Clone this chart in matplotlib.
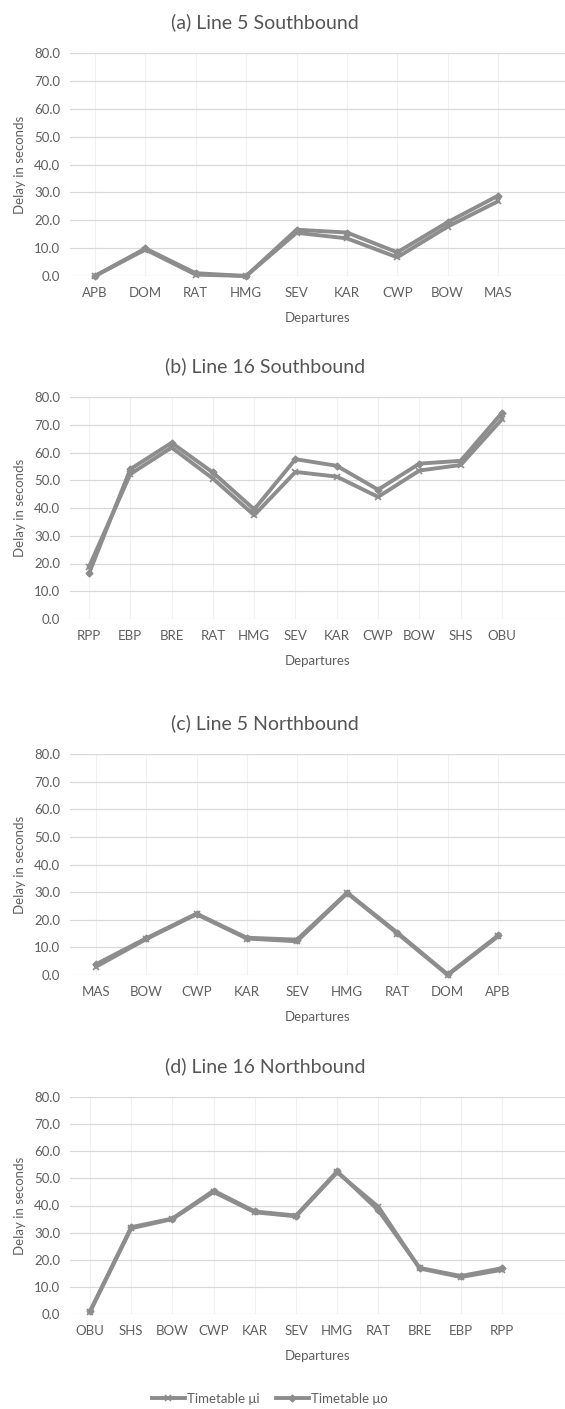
import numpy as np
import matplotlib
matplotlib.use('Agg')
import matplotlib.pyplot as plt

plt.rcParams['font.family'] = ['Lato', 'DejaVu Sans']

# stops and delays (seconds)
stops_a = ['APB', 'DOM', 'RAT', 'HMG', 'SEV', 'KAR', 'CWP', 'BOW', 'MAS']
mu_i_a = [0.0, 9.5, 0.5, 0.0, 15.5, 13.5, 6.7, 17.7, 26.8]
mu_o_a = [0.0, 9.9, 1.0, 0.0, 16.6, 15.6, 8.5, 19.3, 28.8]

stops_b = ['RPP', 'EBP', 'BRE', 'RAT', 'HMG', 'SEV', 'KAR', 'CWP', 'BOW', 'SHS', 'OBU']
mu_i_b = [18.8, 52.2, 61.8, 50.6, 37.4, 53.0, 51.3, 44.0, 53.5, 55.5, 72.0]
mu_o_b = [16.4, 54.0, 63.5, 52.8, 39.5, 57.6, 55.2, 46.6, 56.0, 57.0, 74.3]

stops_c = ['MAS', 'BOW', 'CWP', 'KAR', 'SEV', 'HMG', 'RAT', 'DOM', 'APB']
mu_i_c = [3.0, 13.0, 22.0, 13.2, 12.2, 29.6, 15.0, 0.0, 14.0]
mu_o_c = [3.9, 13.3, 22.2, 13.5, 12.8, 29.8, 15.3, 0.2, 14.3]

stops_d = ['OBU', 'SHS', 'BOW', 'CWP', 'KAR', 'SEV', 'HMG', 'RAT', 'BRE', 'EBP', 'RPP']
mu_i_d = [0.8, 31.6, 35.0, 45.0, 37.5, 36.0, 52.2, 39.5, 16.8, 13.6, 16.3]
mu_o_d = [1.0, 32.0, 35.2, 45.5, 37.8, 36.3, 52.6, 38.2, 17.0, 14.0, 16.9]

titles = ['(a) Line 5 Southbound', '(b) Line 16 Southbound',
          '(c) Line 5 Northbound', '(d) Line 16 Northbound']

W, H = 565, 1409
txt = '#5f5f5f'
line_c = '#8d8d8d'

fig = plt.figure(figsize=(W / 100, H / 100), dpi=100)

# pixel layout: (top, bottom, first cat x, last cat x)
panels = [
    (stops_a, mu_i_a, mu_o_a, 53, 276, 95, 498),
    (stops_b, mu_i_b, mu_o_b, 397, 619, 89, 502),
    (stops_c, mu_i_c, mu_o_c, 754, 975, 96, 498),
    (stops_d, mu_i_d, mu_o_d, 1097, 1314, 90, 502),
]
left_px = 70

for k, (stops, mi, mo, top, bot, x0, x1) in enumerate(panels):
    ax = fig.add_axes([left_px / W, 1 - bot / H, 1 - left_px / W, (bot - top) / H])
    n = len(stops)
    s = (x1 - x0) / (n - 1)
    x = np.arange(n)
    ax.plot(x, mi, color=line_c, lw=2.8, marker='x', ms=5, mew=1.2,
            label='Timetable μi', clip_on=False, zorder=3)
    ax.plot(x, mo, color=line_c, lw=2.8, marker='D', ms=3.5,
            label='Timetable μo', clip_on=False, zorder=3)
    ax.set_xlim(-(x0 - left_px) / s, (W - x0) / s)
    ax.set_ylim(0, 80)
    ax.set_yticks(np.arange(0, 81, 10))
    ax.set_yticklabels(['%.1f' % v for v in np.arange(0, 81, 10)])
    ax.set_xticks(x)
    ax.set_xticklabels(stops)
    ax.grid(axis='y', color='#d9d9d9', lw=0.9)
    for xi in x:
        ax.axvline(xi, color='#f0f0f0', lw=0.8, zorder=0)
    ax.set_axisbelow(True)
    for sp in ax.spines.values():
        sp.set_visible(False)
    ax.tick_params(length=0, colors=txt, labelsize=9.5, pad=8)
    ax.tick_params(axis='y', pad=7)
    ax.set_ylabel('Delay in seconds', color=txt, fontsize=9.5)
    ax.set_xlabel('Departures', color=txt, fontsize=9.5, labelpad=9)
    ax.set_title(titles[k], color='#555555', fontsize=14, pad=18,
                 x=(265 - left_px) / (W - left_px))
    ax.yaxis.set_label_coords(-(left_px - 26) / (W - left_px), 0.5)

handles, labels = ax.get_legend_handles_labels()
fig.legend(handles, labels, loc='center', bbox_to_anchor=(270 / W, 1 - 1399 / H),
           ncol=2, frameon=False, fontsize=9.5, labelcolor=txt,
           handlelength=2.5, handletextpad=0.2, columnspacing=1.2)

fig.savefig('out.png', dpi=100, facecolor='white')
